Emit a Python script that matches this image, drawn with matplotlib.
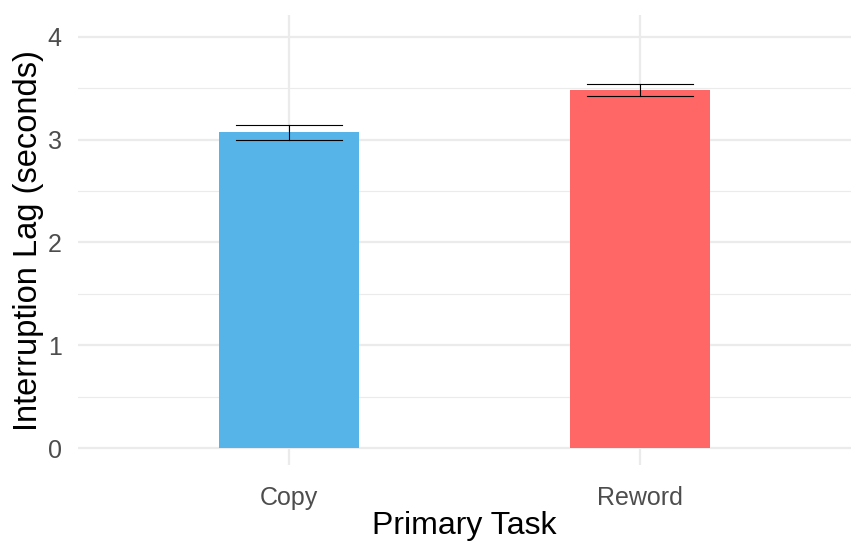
import matplotlib
matplotlib.use("Agg")
import matplotlib.pyplot as plt
import numpy as np

categories = ["Copy", "Reword"]
means = [3.075, 3.484]
err_low = [2.995, 3.426]
err_high = [3.140, 3.543]
colors = ["#56B4E9", "#FF6666"]

plt.rcParams['font.family'] = ['Liberation Sans', 'DejaVu Sans']

fig = plt.figure(figsize=(8.67, 5.57), dpi=100)
ax = fig.add_axes([0.0905, 0.165, 0.8905, 0.808])

x = np.arange(1, len(categories) + 1)
ax.bar(x, means, width=0.4, color=colors, zorder=2)
for xi, lo, hi in zip(x, err_low, err_high):
    ax.plot([xi, xi], [lo, hi], color="black", lw=0.8, zorder=3)
    ax.plot([xi - 0.15, xi + 0.15], [lo, lo], color="black", lw=0.8, zorder=3)
    ax.plot([xi - 0.15, xi + 0.15], [hi, hi], color="black", lw=0.8, zorder=3)

ax.set_xlim(0.4, 2.6)
ax.set_ylim(-0.165, 4.21)
ax.set_xticks(x)
ax.set_xticklabels(categories)
ax.set_yticks([0, 1, 2, 3, 4])
ax.set_yticks([0.5, 1.5, 2.5, 3.5], minor=True)
ax.grid(True, which="major", color="#EBEBEB", lw=1.6, zorder=0)
ax.grid(True, which="minor", axis="y", color="#EBEBEB", lw=0.8, zorder=0)
ax.set_axisbelow(True)
for s in ax.spines.values():
    s.set_visible(False)
ax.tick_params(which="both", length=0)
ax.tick_params(axis="y", labelsize=18, labelcolor="#4D4D4D", pad=12)
ax.tick_params(axis="x", labelsize=18, labelcolor="#4D4D4D", pad=15)
ax.set_xlabel("Primary Task", fontsize=23, color="black", labelpad=1)
ax.set_ylabel("Interruption Lag (seconds)", fontsize=23.5, color="black", labelpad=3)

fig.savefig("out.png", dpi=100)
